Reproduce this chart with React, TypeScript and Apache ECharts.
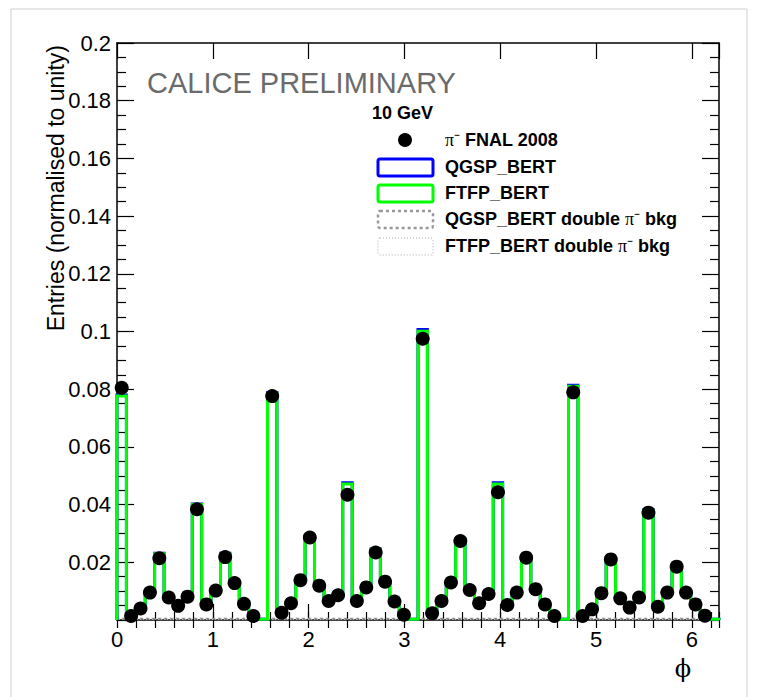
import React, { useEffect, useRef } from "react";
import * as echarts from "echarts";

const TWO_PI = 2 * Math.PI;
const NBINS = 64;
const BIN_W = TWO_PI / NBINS;

// Data: pi- FNAL 2008 (null = no point shown)
const dataValues: (number | null)[] = [
  0.0805, 0.0014, 0.004, 0.0095, 0.0214, 0.0078, 0.0049, 0.0081,
  0.0384, 0.0054, 0.0102, 0.0218, 0.0128, 0.0056, 0.0014, null,
  0.0776, 0.0025, 0.0058, 0.0138, 0.0286, 0.0119, 0.0066, 0.0086,
  0.0434, 0.0066, 0.0113, 0.0234, 0.0133, 0.0064, 0.0018, null,
  0.0975, 0.0023, 0.0066, 0.013, 0.0274, 0.0104, 0.0058, 0.009,
  0.0443, 0.0052, 0.0095, 0.0216, 0.0107, 0.0054, 0.0014, null,
  0.0789, 0.0014, 0.0037, 0.0093, 0.021, 0.0075, 0.0043, 0.0078,
  0.0372, 0.0046, 0.0095, 0.0185, 0.0095, 0.0054, 0.0015, null,
];

// FTFP_BERT simulation
const ftfpValues: number[] = [
  0.0776, 0.0012, 0.0042, 0.0096, 0.023, 0.0079, 0.005, 0.0082,
  0.040, 0.0055, 0.0103, 0.023, 0.0129, 0.0057, 0.0013, 0.0003,
  0.0785, 0.0024, 0.0059, 0.0139, 0.029, 0.012, 0.0067, 0.0087,
  0.0471, 0.0067, 0.0114, 0.0245, 0.0134, 0.0065, 0.0017, 0.0003,
  0.1001, 0.0022, 0.0067, 0.0131, 0.028, 0.0105, 0.0059, 0.0091,
  0.0471, 0.0053, 0.0096, 0.022, 0.0108, 0.0055, 0.0013, 0.0003,
  0.081, 0.0013, 0.0038, 0.0094, 0.0215, 0.0076, 0.0044, 0.0079,
  0.038, 0.0047, 0.0096, 0.019, 0.0096, 0.0055, 0.0014, 0.0003,
];

// QGSP_BERT simulation
const qgspValues: number[] = [
  0.078, 0.0012, 0.0042, 0.0096, 0.0231, 0.0079, 0.005, 0.0082,
  0.0402, 0.0055, 0.0103, 0.0231, 0.0129, 0.0057, 0.0013, 0.0003,
  0.0788, 0.0024, 0.0059, 0.0139, 0.0291, 0.012, 0.0067, 0.0087,
  0.0476, 0.0067, 0.0114, 0.0246, 0.0134, 0.0065, 0.0017, 0.0003,
  0.1007, 0.0022, 0.0067, 0.0131, 0.0281, 0.0105, 0.0059, 0.0091,
  0.0476, 0.0053, 0.0096, 0.0221, 0.0108, 0.0055, 0.0013, 0.0003,
  0.0814, 0.0013, 0.0038, 0.0094, 0.0216, 0.0076, 0.0044, 0.0079,
  0.0382, 0.0047, 0.0096, 0.0191, 0.0096, 0.0055, 0.0014, 0.0003,
];

// double pi- background (essentially zero)
const qgspBkgValues: number[] = [
  0.0004, 0.0004, 0.0004, 0.0004, 0.0004, 0.0004, 0.0004, 0.0004,
  0.0004, 0.0004, 0.0004, 0.0004, 0.0004, 0.0004, 0.0004, 0.0004,
  0.0004, 0.0004, 0.0004, 0.0004, 0.0004, 0.0004, 0.0004, 0.0004,
  0.0004, 0.0004, 0.0004, 0.0004, 0.0004, 0.0004, 0.0004, 0.0004,
  0.0004, 0.0004, 0.0004, 0.0004, 0.0004, 0.0004, 0.0004, 0.0004,
  0.0004, 0.0004, 0.0004, 0.0004, 0.0004, 0.0004, 0.0004, 0.0004,
  0.0004, 0.0004, 0.0004, 0.0004, 0.0004, 0.0004, 0.0004, 0.0004,
  0.0004, 0.0004, 0.0004, 0.0004, 0.0004, 0.0004, 0.0004, 0.0004,
];
const ftfpBkgValues: number[] = [
  0.0003, 0.0003, 0.0003, 0.0003, 0.0003, 0.0003, 0.0003, 0.0003,
  0.0003, 0.0003, 0.0003, 0.0003, 0.0003, 0.0003, 0.0003, 0.0003,
  0.0003, 0.0003, 0.0003, 0.0003, 0.0003, 0.0003, 0.0003, 0.0003,
  0.0003, 0.0003, 0.0003, 0.0003, 0.0003, 0.0003, 0.0003, 0.0003,
  0.0003, 0.0003, 0.0003, 0.0003, 0.0003, 0.0003, 0.0003, 0.0003,
  0.0003, 0.0003, 0.0003, 0.0003, 0.0003, 0.0003, 0.0003, 0.0003,
  0.0003, 0.0003, 0.0003, 0.0003, 0.0003, 0.0003, 0.0003, 0.0003,
  0.0003, 0.0003, 0.0003, 0.0003, 0.0003, 0.0003, 0.0003, 0.0003,
];

const xTickLabels = ["0", "1", "2", "3", "4", "5", "6"];
const yTickLabels = ["0.02", "0.04", "0.06", "0.08", "0.1", "0.12", "0.14", "0.16", "0.18", "0.2"];

function stepPoints(values: number[]): number[][] {
  const pts: number[][] = [[0, 0]];
  values.forEach((v, i) => {
    pts.push([i * BIN_W, v]);
    pts.push([(i + 1) * BIN_W, v]);
  });
  pts.push([TWO_PI, 0]);
  return pts;
}

const FONT = "'Liberation Sans', Arial, Helvetica, sans-serif";
const LEG_FS = 18;

export default function App() {
  const ref = useRef<HTMLDivElement>(null);
  useEffect(() => {
    if (!ref.current) return;
    const chart = echarts.init(ref.current, undefined, { renderer: "svg" });

    const baseX = {
      type: "value" as const,
      min: 0,
      max: TWO_PI,
      gridIndex: 0,
      splitLine: { show: false },
    };
    const baseY = {
      type: "value" as const,
      min: 0,
      max: 0.2,
      interval: 0.02,
      splitLine: { show: false },
    };

    const markerData = dataValues
      .map((v, i) => (v === null ? null : [(i + 0.5) * BIN_W, v]))
      .filter((p) => p !== null);

    const legRich = {
      b: { fontFamily: FONT, fontSize: LEG_FS, fontWeight: "bold", fill: "#000" },
      pi: { fontFamily: "'Liberation Serif', serif", fontSize: LEG_FS, fontWeight: "normal", fill: "#000" },
    };
    const legText = (y: number, text: string) => ({
      type: "text",
      x: 445,
      y,
      style: {
        text,
        fontSize: LEG_FS,
        fontWeight: "bold",
        fontFamily: FONT,
        fill: "#000",
        verticalAlign: "middle",
        rich: legRich,
      },
      z: 10,
    });

    const option: any = {
      animation: false,
      backgroundColor: "#fff",
      grid: { left: 117, right: 40, top: 43, bottom: 77, containLabel: false },
      xAxis: [
        {
          ...baseX,
          interval: 1,
          position: "bottom",
          axisLine: { show: true, onZero: false, lineStyle: { color: "#000", width: 1.5 } },
          axisTick: { show: true, inside: true, length: 16, lineStyle: { color: "#000", width: 1.2 } },
          axisLabel: {
            show: true,
            showMaxLabel: false,
            margin: 8,
            fontSize: 22,
            fontFamily: FONT,
            color: "#000",
            formatter: (v: number) => {
              const r = Math.round(v);
              return Math.abs(v - r) < 1e-6 && r >= 0 && r < xTickLabels.length ? xTickLabels[r] : "";
            },
          },
        },
        {
          ...baseX,
          interval: 0.2,
          position: "bottom",
          axisLine: { show: false },
          axisTick: { show: true, inside: true, length: 8, lineStyle: { color: "#000", width: 1.2 } },
          axisLabel: { show: false },
        },
        {
          ...baseX,
          interval: 1,
          position: "top",
          axisLine: { show: true, onZero: false, lineStyle: { color: "#000", width: 1.5 } },
          axisTick: { show: true, inside: true, length: 16, lineStyle: { color: "#000", width: 1.2 } },
          axisLabel: { show: false },
        },
        {
          ...baseX,
          interval: 0.2,
          position: "top",
          axisLine: { show: false },
          axisTick: { show: true, inside: true, length: 8, lineStyle: { color: "#000", width: 1.2 } },
          axisLabel: { show: false },
        },
      ],
      yAxis: [
        {
          ...baseY,
          position: "left",
          axisLine: { show: true, onZero: false, lineStyle: { color: "#000", width: 1.5 } },
          axisTick: { show: true, inside: true, length: 17, lineStyle: { color: "#000", width: 1.2 } },
          minorTick: { show: true, splitNumber: 4, length: 9, lineStyle: { color: "#000", width: 1.2 } },
          axisLabel: {
            show: true,
            margin: 6,
            fontSize: 22,
            fontFamily: FONT,
            color: "#000",
            formatter: (v: number) => {
              const idx = Math.round(v / 0.02) - 1;
              return idx >= 0 && idx < yTickLabels.length ? yTickLabels[idx] : "";
            },
          },
        },
        {
          ...baseY,
          position: "right",
          axisLine: { show: true, onZero: false, lineStyle: { color: "#000", width: 1.5 } },
          axisTick: { show: true, inside: true, length: 17, lineStyle: { color: "#000", width: 1.2 } },
          minorTick: { show: true, splitNumber: 4, length: 9, lineStyle: { color: "#000", width: 1.2 } },
          axisLabel: { show: false },
        },
      ],
      series: [
        {
          name: "QGSP_BERT double π⁻ bkg",
          type: "line",
          xAxisIndex: 0,
          yAxisIndex: 0,
          data: stepPoints(qgspBkgValues),
          showSymbol: false,
          symbol: "none",
          lineStyle: { color: "#888", width: 2, type: [3, 3] },
          z: 2,
        },
        {
          name: "FTFP_BERT double π⁻ bkg",
          type: "line",
          xAxisIndex: 0,
          yAxisIndex: 0,
          data: stepPoints(ftfpBkgValues),
          showSymbol: false,
          symbol: "none",
          lineStyle: { color: "#bbb", width: 1.5, type: [1, 2] },
          z: 2,
        },
        {
          name: "QGSP_BERT",
          type: "line",
          xAxisIndex: 0,
          yAxisIndex: 0,
          data: stepPoints(qgspValues),
          showSymbol: false,
          symbol: "none",
          lineStyle: { color: "#0000ff", width: 3, join: "miter" },
          z: 3,
        },
        {
          name: "FTFP_BERT",
          type: "line",
          xAxisIndex: 0,
          yAxisIndex: 0,
          data: stepPoints(ftfpValues),
          showSymbol: false,
          symbol: "none",
          lineStyle: { color: "#00ff00", width: 3, join: "miter" },
          z: 4,
        },
        {
          name: "π⁻ FNAL 2008",
          type: "scatter",
          xAxisIndex: 0,
          yAxisIndex: 0,
          data: markerData,
          symbol: "circle",
          symbolSize: 14,
          itemStyle: { color: "#000", opacity: 1 },
          z: 5,
        },
      ],
      graphic: [
        {
          type: "rect",
          shape: { x: 11, y: 9, width: 736, height: 700 },
          style: { fill: "none", stroke: "#d0d0d0", lineWidth: 1 },
          silent: true,
          z: -10,
        },
        {
          type: "text",
          x: 147,
          y: 83,
          style: {
            text: "CALICE PRELIMINARY",
            fontSize: 29,
            fontFamily: FONT,
            fill: "#6b6b6b",
            verticalAlign: "middle",
            align: "left",
          },
          z: 10,
        },
        {
          type: "text",
          x: 56,
          y: 45,
          rotation: Math.PI / 2,
          style: {
            text: "Entries (normalised to unity)",
            fontSize: 23,
            fontFamily: FONT,
            fill: "#000",
            align: "right",
            verticalAlign: "middle",
          },
          z: 10,
        },
        {
          type: "text",
          x: 683,
          y: 669,
          style: {
            text: "ϕ",
            fontSize: 24,
            fontFamily: "'DejaVu Serif', serif",
            fill: "#000",
            align: "center",
            verticalAlign: "middle",
          },
          z: 10,
        },
        {
          type: "text",
          x: 372,
          y: 113,
          style: {
            text: "10 GeV",
            fontSize: 18,
            fontWeight: "bold",
            fontFamily: FONT,
            fill: "#000",
            verticalAlign: "middle",
          },
          z: 10,
        },
        {
          type: "circle",
          shape: { cx: 405, cy: 140, r: 7 },
          style: { fill: "#000" },
          z: 10,
        },
        legText(140, "{pi|π⁻}{b| FNAL 2008}"),
        {
          type: "rect",
          shape: { x: 378, y: 159, width: 55, height: 17, r: 2 },
          style: { fill: "none", stroke: "#0000ff", lineWidth: 3 },
          z: 10,
        },
        {
          type: "rect",
          shape: { x: 378, y: 185, width: 55, height: 17, r: 2 },
          style: { fill: "none", stroke: "#00ff00", lineWidth: 3 },
          z: 10,
        },
        {
          type: "rect",
          shape: { x: 378, y: 211, width: 55, height: 17, r: 2 },
          style: { fill: "none", stroke: "#999", lineWidth: 2.5, lineDash: [3, 3] },
          z: 10,
        },
        {
          type: "rect",
          shape: { x: 378, y: 238, width: 55, height: 17, r: 2 },
          style: { fill: "none", stroke: "#c8c8c8", lineWidth: 1.5, lineDash: [1, 2] },
          z: 10,
        },
        legText(167, "{b|QGSP_BERT}"),
        legText(193, "{b|FTFP_BERT}"),
        legText(219, "{b|QGSP_BERT double }{pi|π⁻}{b| bkg}"),
        legText(246, "{b|FTFP_BERT double }{pi|π⁻}{b| bkg}"),
      ],
    };

    chart.setOption(option);
    return () => chart.dispose();
  }, []);

  return (
    <div
      ref={ref}
      style={{ position: "fixed", left: 0, top: 0, width: 759, height: 697, background: "#fff" }}
    />
  );
}
